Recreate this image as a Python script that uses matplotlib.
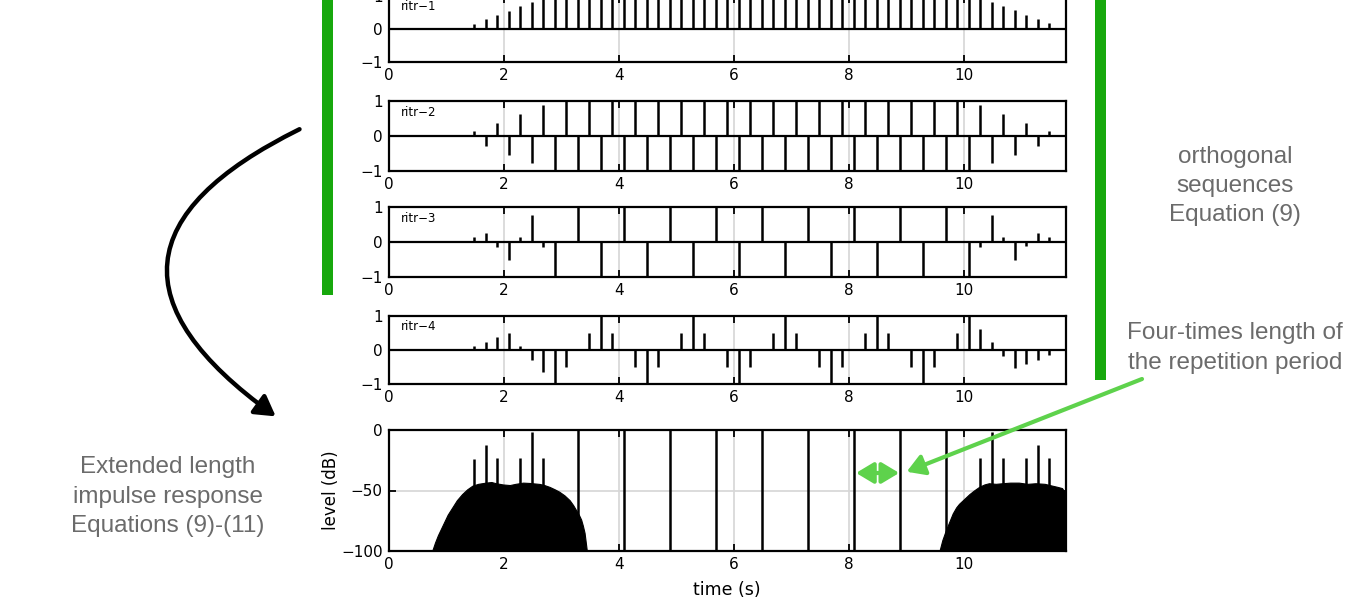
import numpy as np
import matplotlib
matplotlib.use('Agg')
import matplotlib.pyplot as plt
from matplotlib.patches import FancyArrowPatch, Rectangle

W, H = 1361, 599

# ---------------- data ----------------
t_start = 1.48          # first pulse time (s)
period = 0.2            # pulse spacing (s)
n_pulses = 51

ritr1 = ([0.15, 0.29, 0.42, 0.55, 0.69, 0.82, 0.95] + [1] * 37 +
         [0.95, 0.82, 0.70, 0.57, 0.43, 0.30, 0.17])
ritr2 = ([0.13, -0.29, 0.38, -0.53, 0.64, -0.78, 0.90] + [-1, 1] * 18 + [-1] +
         [0.88, -0.78, 0.64, -0.54, 0.38, -0.29, 0.14])
ritr3 = ([0.13, 0.26, -0.15, -0.52, 0.13, 0.76, -0.13] + [-1, 0, 1, 0] * 9 + [-1] +
         [-0.15, 0.76, 0.13, -0.52, -0.12, 0.26, 0.13])
ritr4 = ([0.13, 0.25, 0.37, 0.50, 0.13, -0.28, -0.65] +
         [-1, -0.5, 0, 0.5, 1, 0.5, 0, -0.5] * 4 + [-1, -0.5, 0, 0.5, 1] +
         [0.61, 0.25, -0.18, -0.53, -0.40, -0.28, -0.16])
ritr_series = [ritr1, ritr2, ritr3, ritr4]
ritr_names = ['ritr\u22121', 'ritr\u22122', 'ritr\u22123', 'ritr\u22124']

# extended impulse response (dB)
ir_spike_index = [0, 1, 2, 4, 5, 6, 9, 13, 17, 21, 25, 29, 33, 37, 41, 44, 45, 46, 48, 49, 50]
ir_spike_db = [-24, -12, -23, -23, -2, -23, 0, 0, 0, 0, 0, 0, 0, 0, 0,
               -23, -2, -23, -23, -12, -23]
hump1_t = [0.75, 0.80, 0.85, 0.90, 0.95, 1.02, 1.10, 1.18, 1.27, 1.36, 1.45, 1.55,
           1.68, 1.78, 1.86, 1.98, 2.10, 2.20, 2.33, 2.45, 2.62, 2.70, 2.79, 2.88,
           2.96, 3.05, 3.14, 3.20, 3.25, 3.30, 3.34, 3.37, 3.40, 3.44]
hump1_db = [-100, -93, -87, -82, -77, -70, -64, -58, -53, -49, -46, -44.5,
            -43.5, -43, -44, -45, -45.5, -44.5, -43.5, -43.8, -44.6, -45.5, -47, -49,
            -51, -54, -58, -62, -66, -70, -74, -79, -85, -100]
hump2_t = [9.57, 9.62, 9.68, 9.74, 9.80, 9.86, 9.91, 10.00, 10.09, 10.17, 10.26,
           10.35, 10.43, 10.55, 10.66, 10.80, 10.95, 11.10, 11.24, 11.40, 11.53,
           11.62, 11.70, 11.73, 11.78]
hump2_db = [-100, -91, -83, -76, -69, -64, -61, -57, -53, -50, -47,
            -45, -44, -44.5, -44, -43.5, -43.5, -44.5, -44, -44.5, -46,
            -47, -48, -50, -50.5]

xticks = [0, 2, 4, 6, 8, 10]
x_max = 11.77

# ---------------- layout ----------------
fig = plt.figure(figsize=(W / 100, H / 100), dpi=100)
fig.patch.set_facecolor('white')

x_left_px, x_right_px = 389, 1066
ritr_px = [(-4, 62), (101, 171), (207, 277), (316, 384)]
ir_px = (430, 551)


def add_axes_px(top, bottom):
    return fig.add_axes([x_left_px / W, 1 - bottom / H,
                         (x_right_px - x_left_px) / W, (bottom - top) / H])


def style(ax):
    ax.set_xlim(0, x_max)
    ax.set_xticks(xticks)
    ax.tick_params(direction='in', top=True, right=True, length=5, width=1.3,
                   labelsize=11, pad=4.5)
    for s in ax.spines.values():
        s.set_linewidth(1.6)
    ax.set_axisbelow(True)
    ax.grid(axis='x', color='#d6d6d6', lw=1.2)


times = t_start + period * np.arange(n_pulses)

for (top, bottom), vals, name in zip(ritr_px, ritr_series, ritr_names):
    ax = add_axes_px(top, bottom)
    style(ax)
    ax.set_ylim(-1, 1)
    ax.set_yticks([-1, 0, 1])
    ax.axhline(0, color='k', lw=1.6, zorder=2)
    ax.vlines(times, 0, vals, color='k', lw=1.8, zorder=3)
    ax.text(0.017, 0.84, name, transform=ax.transAxes, fontsize=8.5,
            ha='left', va='center')

ax5 = add_axes_px(*ir_px)
style(ax5)
ax5.set_ylim(-100, 0)
ax5.set_yticks([-100, -50, 0])
ax5.grid(axis='y', color='#d6d6d6', lw=1.2)
ax5.fill_between(hump1_t, -100, hump1_db, color='k', lw=0.8, edgecolor='k', zorder=3)
ax5.fill_between(hump2_t, -100, hump2_db, color='k', lw=0.8, edgecolor='k', zorder=3)
spike_t = t_start + period * np.array(ir_spike_index)
ax5.vlines(spike_t, -100, ir_spike_db, color='k', lw=1.8, zorder=3)

fig.text(331 / W, 1 - 490 / H, 'level (dB)', rotation=90, ha='center',
         va='center', fontsize=12)
fig.text(727 / W, 1 - 590 / H, 'time (s)', ha='center', va='center', fontsize=12.5)

# ---------------- annotations ----------------
green_bar = '#17a80d'
green_arrow = '#5ed24c'
grey_txt = '#6b6b6b'

fig.add_artist(Rectangle((322 / W, 1 - 295 / H), 11 / W, 295 / H,
                         transform=fig.transFigure, color=green_bar, lw=0))
fig.add_artist(Rectangle((1095 / W, 1 - 380 / H), 11 / W, 380 / H,
                         transform=fig.transFigure, color=green_bar, lw=0))

tfont = dict(family='Liberation Sans', fontsize=17.5, color=grey_txt,
             ha='center', va='center')
for txt, y in [('orthogonal', 157), ('sequences', 186), ('Equation (9)', 215)]:
    fig.text(1235 / W, 1 - y / H, txt, **tfont)
for txt, y in [('Four-times length of', 333), ('the repetition period', 363)]:
    fig.text(1235 / W, 1 - y / H, txt, **tfont)
for txt, y in [('Extended length', 467), ('impulse response', 497),
               ('Equations (9)-(11)', 526)]:
    fig.text(168 / W, 1 - y / H, txt, **tfont)

# black curved arrow
fig.add_artist(FancyArrowPatch((302 / W, 1 - 128 / H), (278 / W, 1 - 418 / H),
                               transform=fig.transFigure,
                               connectionstyle='arc3,rad=0.84',
                               arrowstyle='-|>,head_length=12,head_width=7',
                               color='k', lw=3.2, mutation_scale=1))

# green double arrow inside the IR panel
ax5.plot([8.2, 8.8], [-35.5, -35.5], color=green_arrow, lw=3,
         solid_capstyle='butt', zorder=6, clip_on=False)
arrow_kw = dict(arrowstyle='-|>,head_length=0.75,head_width=0.45',
                color=green_arrow, lw=3, mutation_scale=14,
                shrinkA=0, shrinkB=0)
ax5.annotate('', xy=(8.12, -35.5), xytext=(8.45, -35.5),
             arrowprops=arrow_kw, annotation_clip=False, zorder=6)
ax5.annotate('', xy=(8.87, -35.5), xytext=(8.55, -35.5),
             arrowprops=arrow_kw, annotation_clip=False, zorder=6)
ax5.annotate('', xy=(9.0, -34.5), xycoords='data',
             xytext=(1142 / W, 1 - 379 / H), textcoords='figure fraction',
             arrowprops=arrow_kw, annotation_clip=False, zorder=6)

fig.savefig('out.png', dpi=100, facecolor='white')
